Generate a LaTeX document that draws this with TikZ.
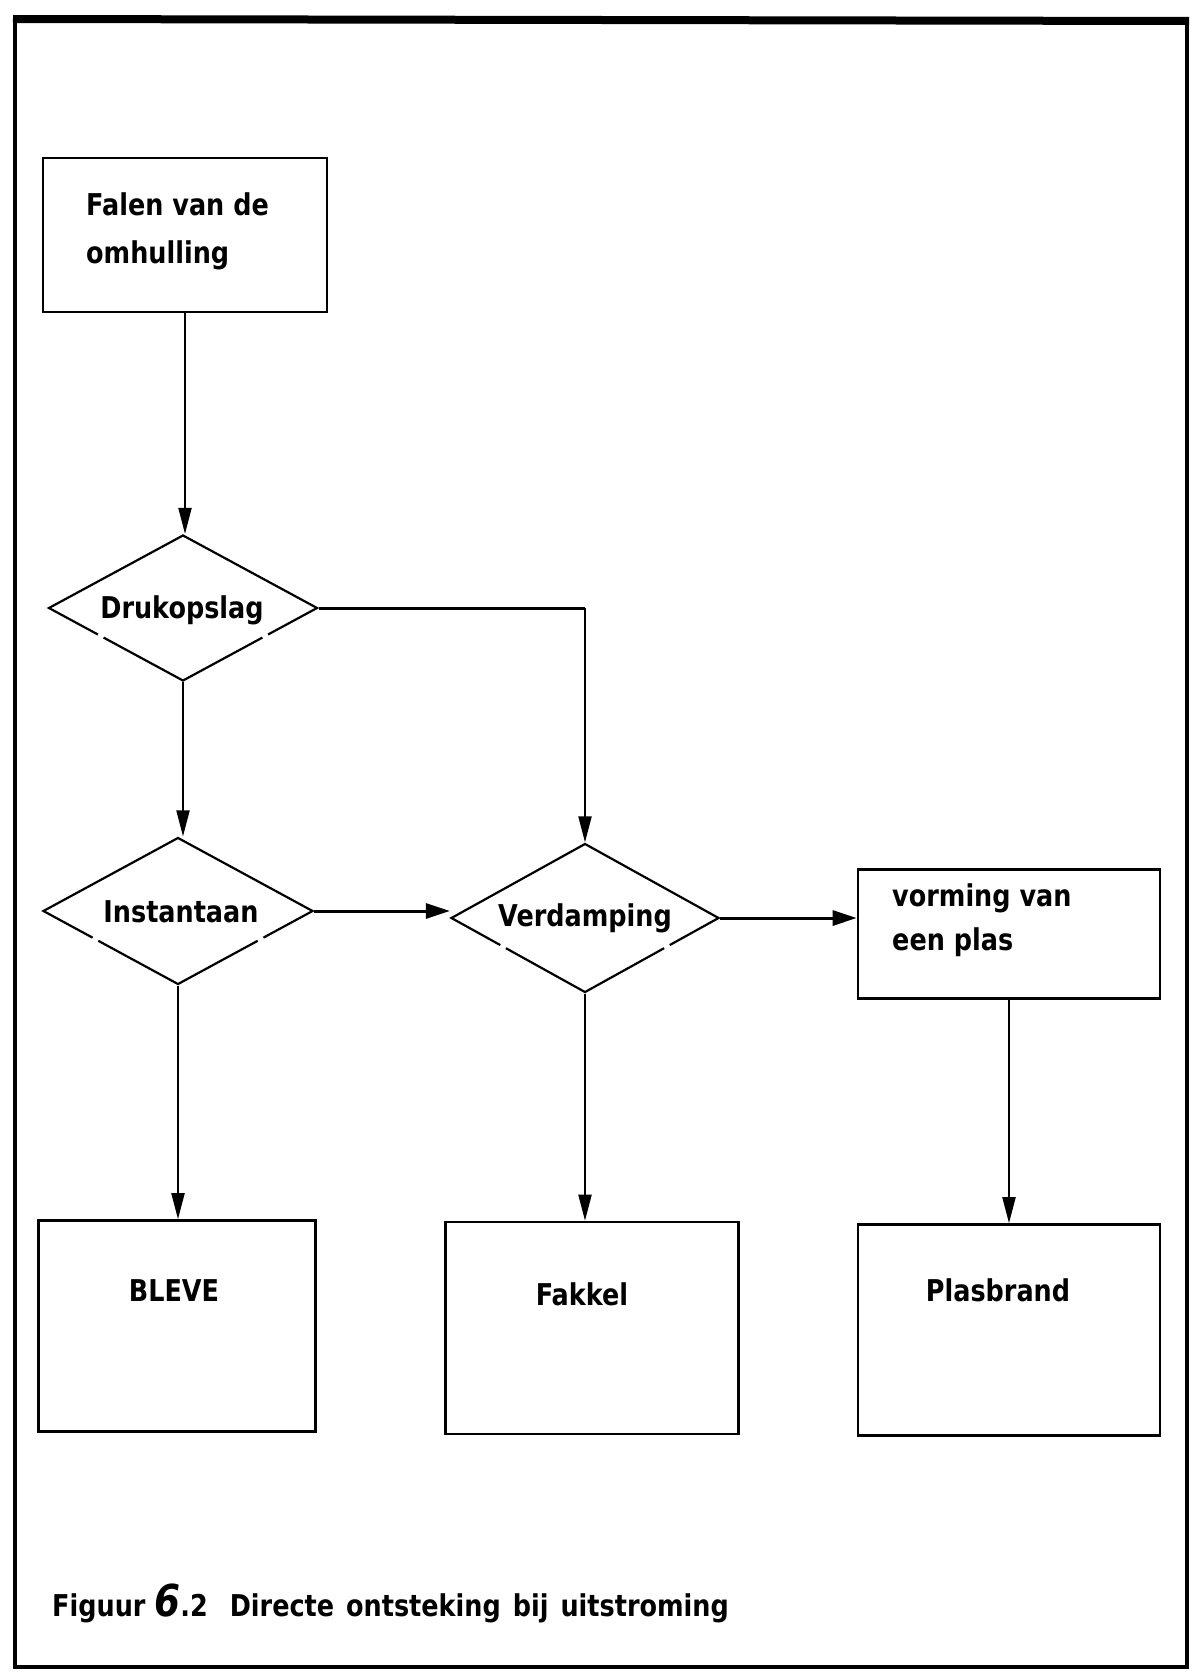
\documentclass[tikz,border=0pt]{standalone}
\usepackage{fontspec}
\setmainfont{DejaVu Sans}[FakeStretch=0.85]
\usetikzlibrary{arrows.meta,shapes.geometric,calc}
\begin{document}
\begin{tikzpicture}[x=1pt,y=-1pt,
  every node/.style={font=\fontsize{30}{44}\selectfont\bfseries},
  box/.style={draw, line width=2.6pt, rectangle, inner sep=0pt},
  choice/.style={draw, line width=2.2pt, diamond, inner sep=0pt, aspect=1},
  txt/.style={inner sep=0pt},
  flow/.style={line width=2pt, -{Triangle[length=26pt,width=13pt]}},
  flowh/.style={line width=3pt, -{Triangle[length=24pt,width=15pt]}},
  gap/.style={white, line width=6pt}]

\useasboundingbox (0,0) rectangle (1191,1675);

% page frame
\draw[line width=4pt] (15,19) rectangle (1187,1667);
\draw[line width=8pt] (13,19) -- (1189,21);

% boxes
\node[box, minimum width=284pt, minimum height=154pt] (falen) at (185,235) {};
\node[txt, anchor=base west] (falen-1) at (86,215) {Falen van de};
\node[txt, anchor=base west] (falen-2) at (86,263) {omhulling};

\node[box, minimum width=302pt, minimum height=129pt] (plas) at (1009,934) {};
\node[txt, anchor=base west] (plas-1) at (892,906) {vorming van};
\node[txt, anchor=base west] (plas-2) at (892,950) {een plas};

\node[box, minimum width=277pt, minimum height=211pt] (bleve) at (177,1326) {};
\node[txt, anchor=base] (bleve-t) at (174,1301) {BLEVE};
\node[box, minimum width=293pt, minimum height=212pt] (fakkel) at (592,1328) {};
\node[txt, anchor=base] (fakkel-t) at (582,1305) {Fakkel};
\node[box, minimum width=302pt, minimum height=211pt] (brand) at (1009,1330) {};
\node[txt, anchor=base] (brand-t) at (998,1301) {Plasbrand};

% decisions
\node[choice, minimum width=269pt, minimum height=146pt] (druk) at (183,608) {};
\node[txt, anchor=base] (druk-t) at (182,618) {Drukopslag};
\node[choice, minimum width=270pt, minimum height=147pt] (inst) at (178,911) {};
\node[txt, anchor=base] (inst-t) at (181,922) {Instantaan};
\node[choice, minimum width=268pt, minimum height=149pt] (verd) at (585,918) {};
\node[txt, anchor=base] (verd-t) at (585,926) {Verdamping};

% pen lifts in the lower edges of the decisions
\foreach \d in {druk,inst,verd}{
  \draw[gap] ($(\d.west)!0.37!(\d.south)$) -- ($(\d.west)!0.41!(\d.south)$);
  \draw[gap] ($(\d.east)!0.37!(\d.south)$) -- ($(\d.east)!0.41!(\d.south)$);
}

% connectors
\draw[flow] (falen.south) -- (falen.south |- druk.north);
\draw[flowh, -] (druk.east) -- (druk.east -| verd.north);
\draw[flow] (druk.east -| verd.north) -- (verd.north);
\draw[flow] (druk.south) -- (druk.south |- inst.north);
\draw[flowh] (inst.east) -- (inst.east -| verd.west);
\draw[flowh] (verd.east) -- (verd.east -| plas.west);
\draw[flow] (inst.south) -- (inst.south |- bleve.north);
\draw[flow] (verd.south) -- (verd.south |- fakkel.north);
\draw[flow] (plas.south) -- (plas.south |- brand.north);

% caption
\node[txt, anchor=base west] (cap) at (52,1616)
  {Figuur {\fontsize{44}{44}\selectfont\itshape 6}.2\hspace{22pt}{\spaceskip=12pt Directe ontsteking bij uitstroming}};
\end{tikzpicture}
\end{document}
